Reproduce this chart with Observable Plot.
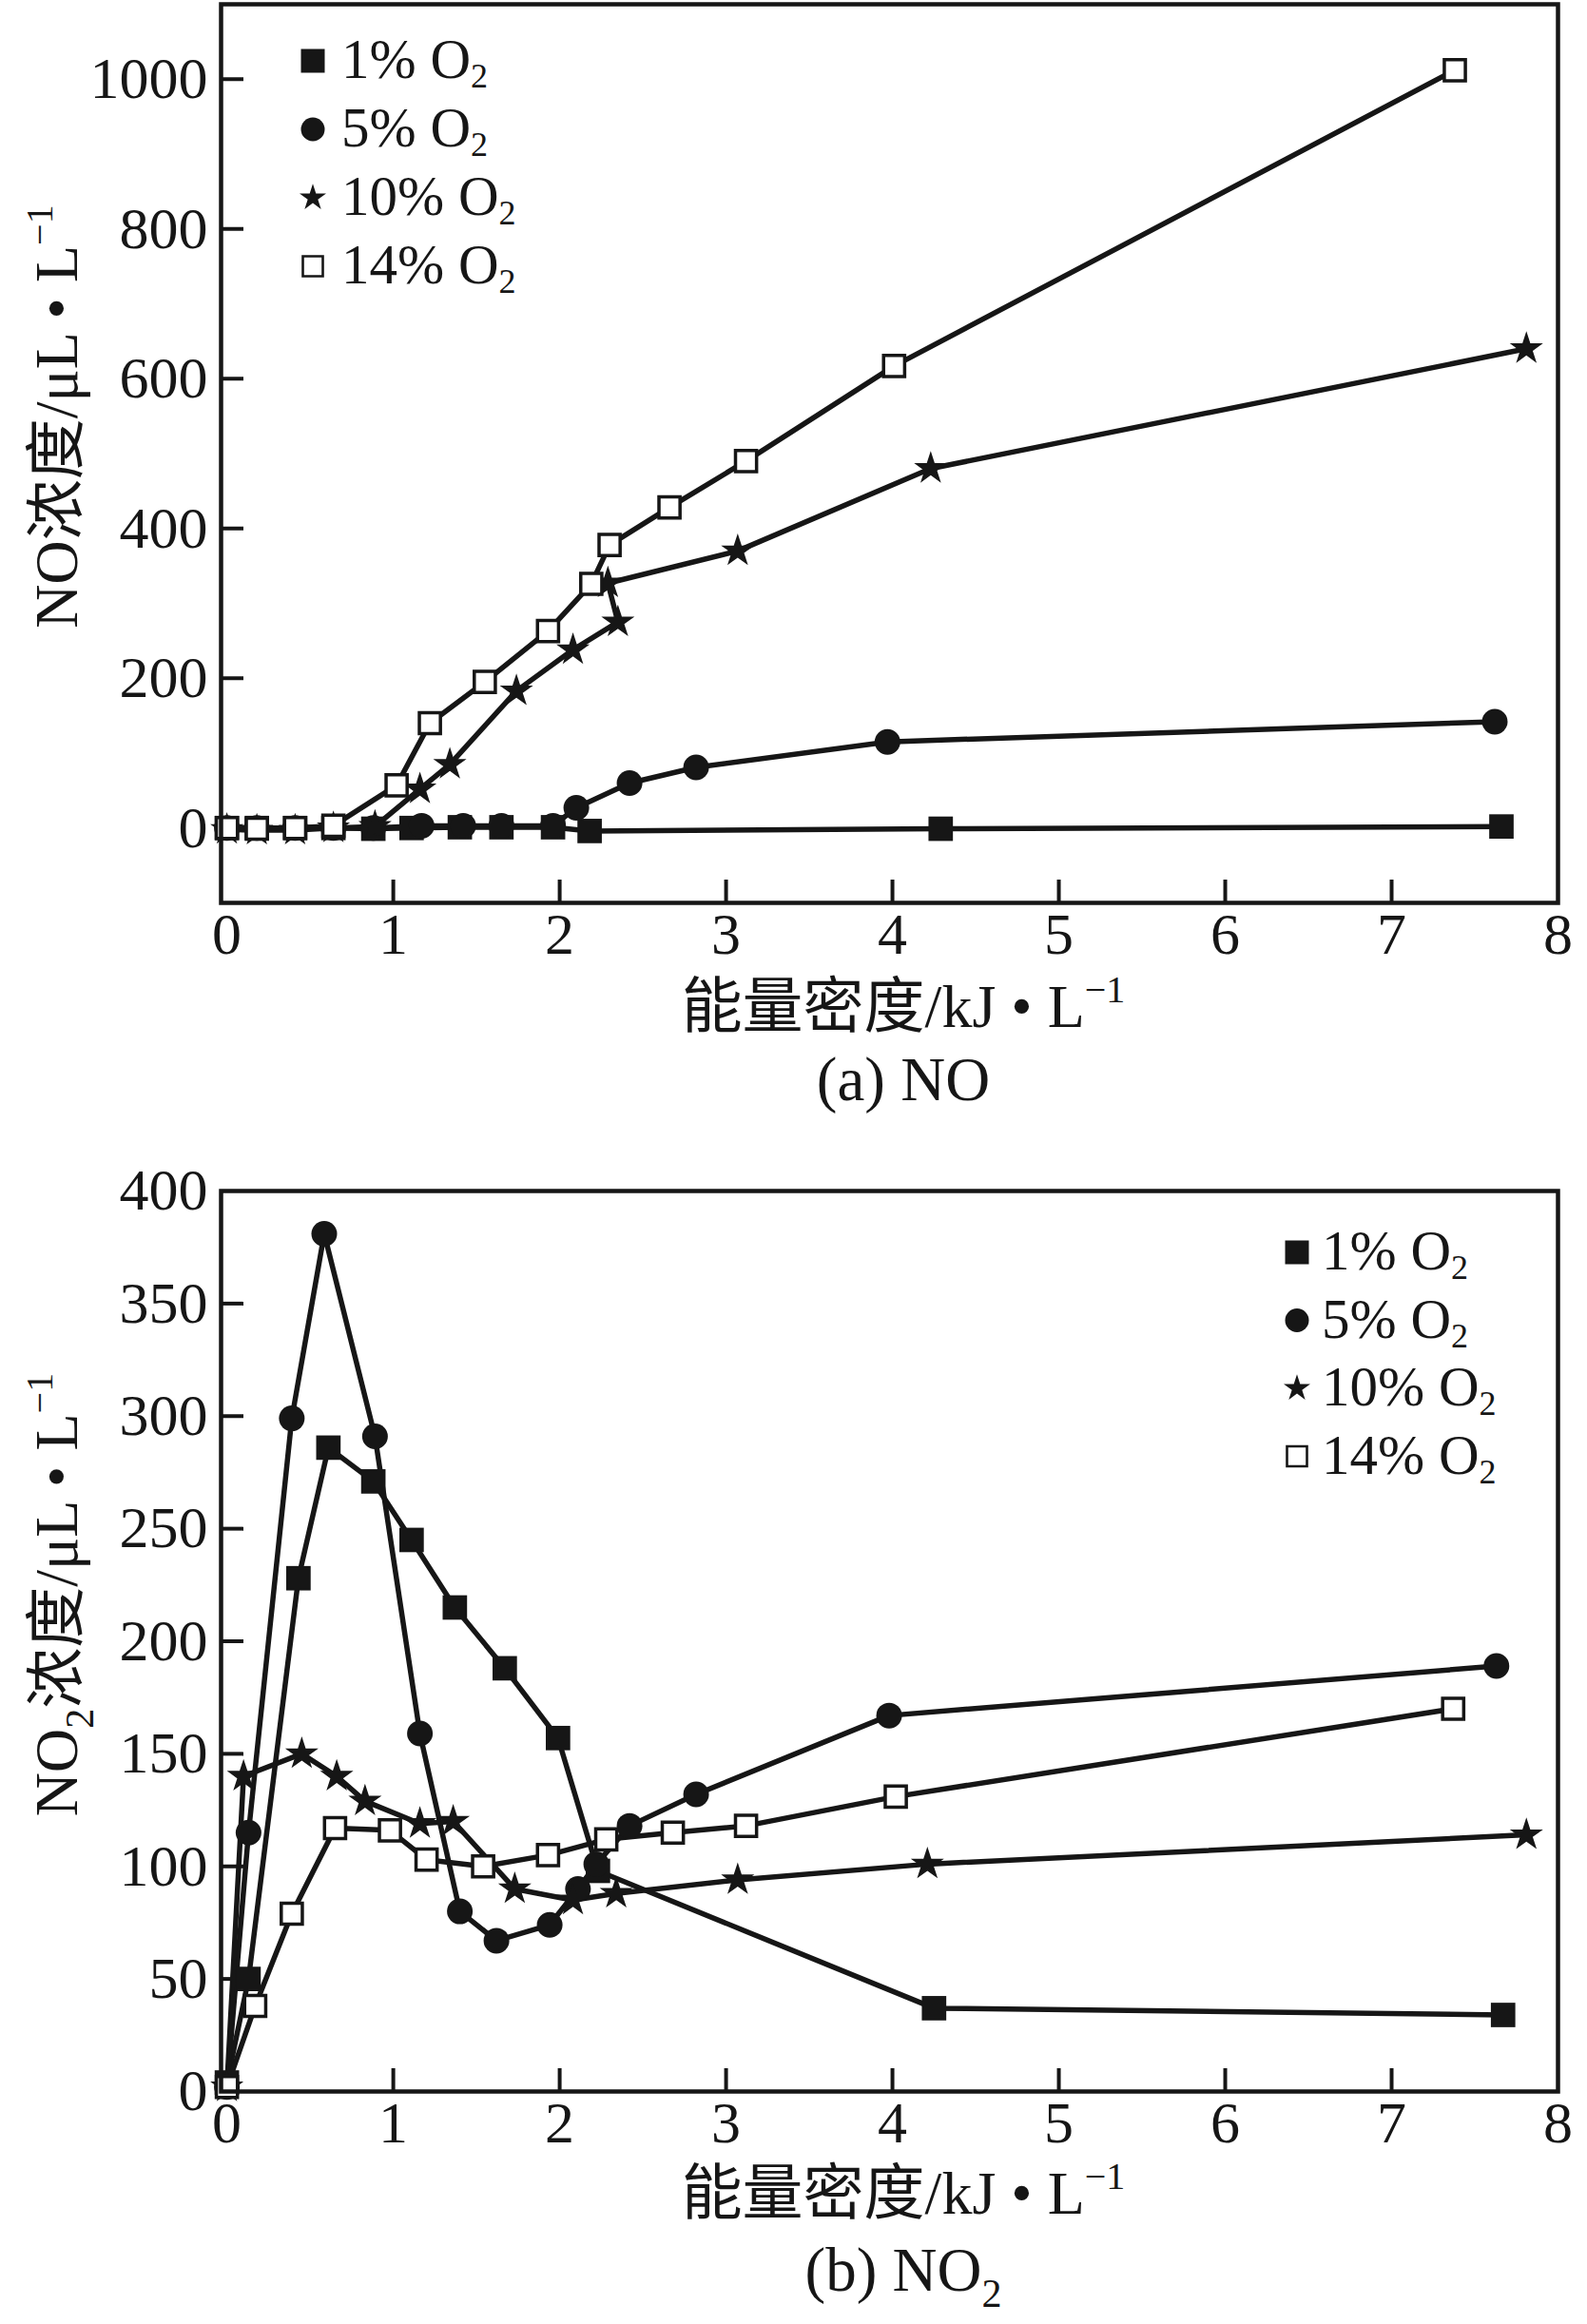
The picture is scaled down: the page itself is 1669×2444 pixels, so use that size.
<!DOCTYPE html>
<html><head><meta charset="utf-8">
<script src="https://cdn.jsdelivr.net/npm/d3@7"></script>
<script src="https://cdn.jsdelivr.net/npm/@observablehq/plot@0.6"></script>
<style>
body{margin:0;background:#fff;}
#root{position:relative;width:1669px;height:2444px;overflow:hidden;font-family:'Liberation Serif','Times New Roman','Noto Sans CJK SC',serif;color:#161616;background:#fff;}
.lbl{position:absolute;left:950px;transform:translateX(-50%);white-space:nowrap;}
.ttl{font-size:64px;line-height:64px;}
.cap{font-size:65px;line-height:65px;}
.sup{font-size:40px;position:relative;top:-26px;}
.sub{font-size:42px;position:relative;top:17px;}
</style></head>
<body>
<div id="root">
 <div id="chartA" style="position:absolute;left:0;top:0;"></div>
 <div class="lbl ttl" style="top:1027px">能量密度/kJ • L<span class="sup">−1</span></div>
 <div class="lbl cap" style="top:1103px">(a) NO</div>
 <div id="chartB" style="position:absolute;left:0;top:1222px;"></div>
 <div class="lbl ttl" style="top:2275px">能量密度/kJ • L<span class="sup">−1</span></div>
 <div class="lbl cap" style="top:2355px">(b) NO<span class="sub">2</span></div>
</div>
<script>
// ---------- data ----------
const xTicks = [0, 1, 2, 3, 4, 5, 6, 7, 8];
const xDomain = [-0.035, 8];
const seriesNames = ["1% O2", "5% O2", "10% O2", "14% O2"];

const noYTicks = [0, 200, 400, 600, 800, 1000];
const noYDomain = [-100, 1100];
const no2YTicks = [0, 50, 100, 150, 200, 250, 300, 350, 400];
const no2YDomain = [0, 400];

// (a) NO
const noX1 = [0, 0.18, 0.41, 0.64, 0.88, 1.11, 1.40, 1.65, 1.96, 2.18, 4.29, 7.66];
const noY1 = [0, 0, 0, 0, -1, 0, 1, 1, 1, -4, -1, 2];
const noX5 = [0, 0.18, 0.41, 0.64, 0.88, 1.17, 1.42, 1.65, 1.96, 2.10, 2.42, 2.82, 3.97, 7.62];
const noY5 = [0, 0, 0, 0, 0, 3, 3, 3, 3, 27, 60, 81, 115, 142];
const noX10 = [0, 0.18, 0.41, 0.64, 0.89, 1.16, 1.34, 1.74, 2.08, 2.35, 2.29, 3.07, 4.23, 7.81];
const noY10 = [-2, -3, -3, 0, 2, 52, 85, 183, 238, 275, 327, 370, 480, 640];
const noX14 = [0, 0.18, 0.41, 0.64, 1.02, 1.22, 1.55, 1.93, 2.19, 2.30, 2.66, 3.12, 4.01, 7.38];
const noY14 = [0, -1, 0, 3, 57, 140, 195, 263, 326, 378, 428, 490, 617, 1012];

// (b) NO2
const no2X1 = [0, 0.13, 0.43, 0.61, 0.88, 1.11, 1.37, 1.67, 1.99, 2.23, 4.25, 7.67];
const no2Y1 = [4, 50, 228, 286, 271, 245, 215, 188, 157, 98, 37, 34];
const no2X5 = [0, 0.13, 0.39, 0.585, 0.89, 1.16, 1.40, 1.62, 1.94, 2.11, 2.22, 2.42, 2.82, 3.98, 7.63];
const no2Y5 = [2, 115, 299, 381, 291, 159, 80, 67, 74, 90, 101, 118, 132, 167, 189];
const no2X10 = [0, 0.10, 0.45, 0.66, 0.83, 1.16, 1.36, 1.73, 2.08, 2.34, 3.07, 4.21, 7.81];
const no2Y10 = [2, 140, 150, 140, 129, 119, 120, 90, 85, 88, 94, 101, 114];
const no2X14 = [0, 0.17, 0.39, 0.65, 0.98, 1.20, 1.54, 1.93, 2.28, 2.68, 3.12, 4.02, 7.37];
const no2Y14 = [2, 38, 79, 117, 116, 103, 100, 105, 112, 115, 118, 131, 170];

// ---------- styles ----------
const INK = "#161616";
const FONT = "'Liberation Serif','Times New Roman','Noto Sans CJK SC',serif";
const markStyle = [
  {symbol: "square", fill: INK, r: 14.5},
  {symbol: "circle", fill: INK, r: 13.5},
  {symbol: "star", fill: INK, r: 11},
  {symbol: "square", fill: "white", stroke: INK, strokeWidth: 3.5, r: 12.5}
];
const legendSym = [
  {type: d3.symbolSquare, size: 625, fill: INK, stroke: "none", sw: 0},
  {type: d3.symbolCircle, size: 491, fill: INK, stroke: "none", sw: 0},
  {type: d3.symbolStar, size: 243, fill: INK, stroke: "none", sw: 0},
  {type: d3.symbolSquare, size: 441, fill: "white", stroke: INK, sw: 2.6}
];

function chart(cfg) {
  const W = 1669, mL = 232, mR = 31;
  const data = cfg.sets.flatMap(([xs, ys], k) => xs.map((x, i) => ({x, y: ys[i], s: seriesNames[k]})));
  const pxX = (W - mL - mR) / (xDomain[1] - xDomain[0]);
  const pxY = (cfg.height - cfg.marginTop - cfg.marginBottom) / (cfg.yDomain[1] - cfg.yDomain[0]);
  const tick = 24;
  const marks = [
    Plot.ruleX(xTicks.slice(1, -1), {x: d => d, y1: cfg.yDomain[0], y2: cfg.yDomain[0] + tick / pxY, stroke: INK, strokeWidth: 4}),
    Plot.ruleY(cfg.yInner, {y: d => d, x1: xDomain[0], x2: xDomain[0] + tick / pxX, stroke: INK, strokeWidth: 4}),
    ...seriesNames.map(s => Plot.line(data.filter(d => d.s === s), {x: "x", y: "y", stroke: INK, strokeWidth: 5.5})),
    ...seriesNames.map((s, k) => Plot.dot(data.filter(d => d.s === s), {x: "x", y: "y", ...markStyle[k]})),
    Plot.frame({stroke: INK, strokeWidth: 4.5}),
    Plot.axisX({ticks: xTicks, tickSize: 0, tickPadding: 9, label: null, fontSize: 62, tickFormat: d => String(d)}),
    Plot.axisY({ticks: cfg.yTicks, tickSize: 0, tickPadding: 14, label: null, fontSize: 62, tickFormat: d => String(d)})
  ];
  const svg = Plot.plot({
    width: W, height: cfg.height,
    marginLeft: mL, marginRight: mR, marginTop: cfg.marginTop, marginBottom: cfg.marginBottom,
    x: {domain: xDomain}, y: {domain: cfg.yDomain},
    style: {fontFamily: FONT, fontSize: "62px", color: INK, background: "white", overflow: "visible"},
    marks
  });
  const s = d3.select(svg);
  // legend
  const g = s.append("g").attr("text-anchor", "start");
  cfg.legend.rows.forEach((ry, k) => {
    const L = legendSym[k];
    g.append("path").attr("transform", `translate(${cfg.legend.sx},${ry})`)
      .attr("d", d3.symbol(L.type, L.size)())
      .attr("fill", L.fill).attr("stroke", L.stroke).attr("stroke-width", L.sw);
    const t = g.append("text").attr("x", cfg.legend.tx).attr("y", ry + 18)
      .attr("text-anchor", "start")
      .attr("font-size", 59).attr("font-family", FONT).attr("fill", INK);
    const name = seriesNames[k];
    t.append("tspan").text(name.slice(0, -1));
    t.append("tspan").attr("font-size", 36).attr("dy", 10).text(name.slice(-1));
  });
  // y title
  const yt = s.append("text").attr("transform", "rotate(-90)")
    .attr("x", -cfg.yTitle.cy).attr("y", 81).attr("text-anchor", "middle")
    .attr("font-size", 64).attr("font-family", FONT).attr("fill", INK);
  cfg.yTitle.parts.forEach(p => {
    const ts = yt.append("tspan").text(p.t);
    if (p.sub) ts.attr("font-size", 42).attr("dy", 17);
    if (p.back) ts.attr("dy", -17);
    if (p.sup) ts.attr("font-size", 40).attr("dy", -26);
  });
  return svg;
}

document.getElementById("chartA").appendChild(chart({
  sets: [[noX1, noY1], [noX5, noY5], [noX10, noY10], [noX14, noY14]],
  yDomain: noYDomain, yTicks: noYTicks, yInner: noYTicks.slice(1),
  height: 1019, marginTop: 4, marginBottom: 70,
  legend: {sx: 329, tx: 359, rows: [64, 136, 208, 280]},
  yTitle: {cy: 438, parts: [{t: "NO浓度/μL • L"}, {t: "−1", sup: true}]}
}));

document.getElementById("chartB").appendChild(chart({
  sets: [[no2X1, no2Y1], [no2X5, no2Y5], [no2X10, no2Y10], [no2X14, no2Y14]],
  yDomain: no2YDomain, yTicks: no2YTicks, yInner: no2YTicks.slice(1, -1),
  height: 1047, marginTop: 30, marginBottom: 70,
  legend: {sx: 1364, tx: 1390, rows: [95, 166.5, 238, 309.5]},
  yTitle: {cy: 455, parts: [{t: "NO"}, {t: "2", sub: true}, {t: "浓度/μL • L", back: true}, {t: "−1", sup: true}]}
}));
</script>
</body></html>
